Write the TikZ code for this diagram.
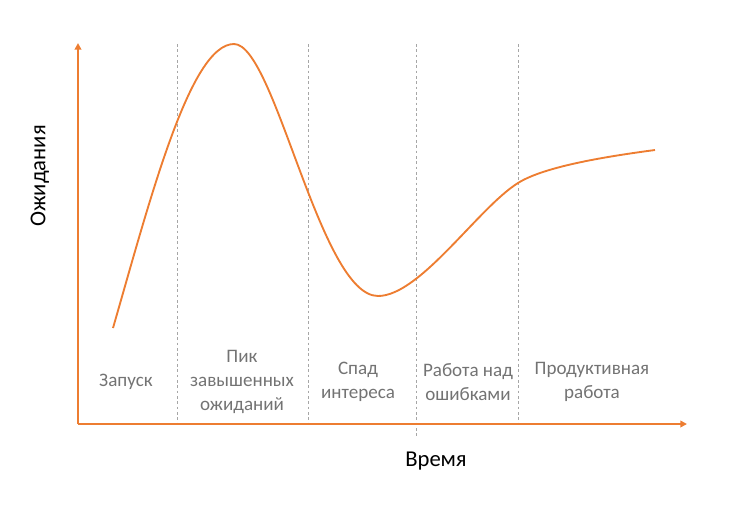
\documentclass[tikz,border=0pt]{standalone}
\usepackage{fontspec}
\setmainfont{Carlito}
\usepackage{tikz}
\usetikzlibrary{arrows.meta}
\definecolor{hypeorange}{RGB}{237,125,49}
\definecolor{labelgray}{RGB}{115,115,115}
\tikzset{
   axis/.style={draw=hypeorange, line width=1.8pt, -{Triangle[length=5pt,width=5pt]}},
   curve/.style={draw=hypeorange, line width=1.4pt},
   phase/.style={draw=black!35, line width=0.5pt, dash pattern=on 2pt off 2pt},
   phaselabel/.style={text=labelgray, align=center, font=\fontsize{14.3}{18}\selectfont},
   axislabel/.style={text=black, font=\fontsize{17}{20}\selectfont}
}
\begin{document}
\begin{tikzpicture}[x=0.75pt,y=-0.75pt]
\useasboundingbox (0,0) rectangle (744,526);
\coordinate (o) at (78,424);
\coordinate (ytop) at (78,43);
\coordinate (xend) at (687,424);
\coordinate (d1t) at (177,44);
\coordinate (d1b) at (177,424);
\coordinate (d2t) at (308,44);
\coordinate (d2b) at (308,424);
\coordinate (d3t) at (416,44);
\coordinate (d3b) at (416,436);
\coordinate (d4t) at (518,44);
\coordinate (d4b) at (518,424);
\draw[phase] (d1t) -- (d1b);
\draw[phase] (d2t) -- (d2b);
\draw[phase] (d3t) -- (d3b);
\draw[phase] (d4t) -- (d4b);
\draw[axis] (o) -- (ytop);
\draw[axis] (o) -- (xend);
\draw[curve] (113,328) .. controls (150,200) and (190,44) .. (234,44)
   .. controls (275,44) and (320,296) .. (378,296)
   .. controls (420,296) and (478,208) .. (518,183)
   .. controls (545,166) and (610,156) .. (655,150);
\node[phaselabel] (launch) at (126,382) {Запуск};
\node[phaselabel] (peak) at (242,382) {Пик\\завышенных\\ожиданий};
\node[phaselabel] (trough) at (358,382) {Спад\\интереса};
\node[phaselabel] (slope) at (468,382) {Работа над\\ошибками};
\node[phaselabel] (plateau) at (592,382) {Продуктивная\\работа};
\node[axislabel] (time) at (436,461) {Время};
\node[axislabel, rotate=90] (expect) at (40,176) {Ожидания};
\end{tikzpicture}
\end{document}
